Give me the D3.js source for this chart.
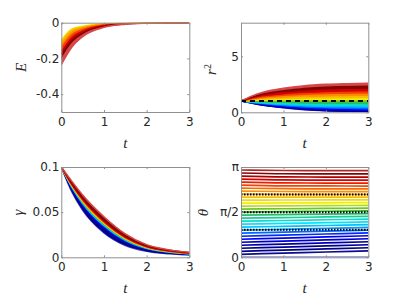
<!DOCTYPE html>
<html><head><meta charset="utf-8">
<script src="https://cdn.jsdelivr.net/npm/d3@7"></script>
<style>body{margin:0;background:#fff}svg{display:block}</style>
</head><body>
<svg id="chart" width="407" height="305"></svg>
<script>
// ---------- data ----------
const timeGrid = [0, 0.25, 0.5, 1, 1.5, 2, 2.5, 3];
const thetaTimes = [0, 1, 2, 3];
const xTicks = [0, 1, 2, 3];

// colour index (initial angle / pi) of the band curves
const bandColorIndex = [0, 0.067, 0.133, 0.2, 0.267, 0.333, 0.4, 0.467, 0.533, 0.6, 0.667, 0.733, 0.8, 0.867, 0.933, 1];

// E(t): only the visible curves (colour index 0.6 .. 1)
const energyColorIndex = [0.6, 0.667, 0.733, 0.8, 0.867, 0.933, 1];
const energyValues = [
  [-0.098, -0.035, -0.020, -0.005, -0.001, 0, 0, 0],
  [-0.115, -0.048, -0.026, -0.0075, -0.0018, -0.0005, -0.0001, 0],
  [-0.135, -0.062, -0.034, -0.010, -0.0027, -0.0008, -0.0003, 0],
  [-0.155, -0.078, -0.043, -0.013, -0.004, -0.0012, -0.0004, 0],
  [-0.175, -0.093, -0.053, -0.017, -0.005, -0.0018, -0.0005, 0],
  [-0.200, -0.111, -0.064, -0.021, -0.007, -0.0022, -0.0007, 0],
  [-0.235, -0.136, -0.078, -0.026, -0.0087, -0.003, -0.001, 0]
];
const energyTicks = [0, -0.2, -0.4];

// r^2(t)
const rSquaredValues = [
  [1, 0.82, 0.65, 0.40, 0.22, 0.12, 0.06, 0.02],
  [1, 0.82, 0.65, 0.42, 0.25, 0.15, 0.09, 0.06],
  [1, 0.84, 0.68, 0.47, 0.31, 0.23, 0.17, 0.14],
  [1, 0.86, 0.73, 0.54, 0.41, 0.33, 0.29, 0.26],
  [1, 0.88, 0.78, 0.63, 0.52, 0.46, 0.42, 0.40],
  [1, 0.91, 0.83, 0.72, 0.64, 0.59, 0.57, 0.55],
  [1, 0.94, 0.89, 0.82, 0.77, 0.74, 0.73, 0.72],
  [1, 0.98, 0.96, 0.93, 0.92, 0.91, 0.90, 0.90],
  [1, 1.02, 1.04, 1.05, 1.07, 1.07, 1.08, 1.08],
  [1, 1.06, 1.11, 1.17, 1.21, 1.23, 1.24, 1.25],
  [1, 1.12, 1.21, 1.31, 1.38, 1.42, 1.44, 1.45],
  [1, 1.17, 1.30, 1.45, 1.55, 1.61, 1.63, 1.65],
  [1, 1.23, 1.40, 1.60, 1.72, 1.80, 1.83, 1.85],
  [1, 1.30, 1.52, 1.78, 1.93, 2.03, 2.07, 2.10],
  [1, 1.38, 1.67, 2.00, 2.20, 2.31, 2.36, 2.40],
  [1, 1.45, 1.78, 2.15, 2.38, 2.50, 2.56, 2.60]
];
const rSquaredReference = 1;
const rSquaredTicks = [0, 5];

// gamma(t)
const gammaValues = [
  [0.1, 0.0720, 0.0520, 0.0270, 0.0130, 0.0065, 0.0038, 0.0025],
  [0.1, 0.0744, 0.0554, 0.0306, 0.0156, 0.0080, 0.0047, 0.0031],
  [0.1, 0.0758, 0.0574, 0.0328, 0.0172, 0.0089, 0.0053, 0.0035],
  [0.1, 0.0766, 0.0585, 0.0338, 0.0179, 0.0094, 0.0056, 0.0036],
  [0.1, 0.0770, 0.0591, 0.0346, 0.0185, 0.0097, 0.0058, 0.0038],
  [0.1, 0.0775, 0.0598, 0.0353, 0.0190, 0.0100, 0.0060, 0.0039],
  [0.1, 0.0780, 0.0605, 0.0360, 0.0195, 0.0103, 0.0062, 0.0040],
  [0.1, 0.0784, 0.0610, 0.0365, 0.0199, 0.0105, 0.0063, 0.0041],
  [0.1, 0.0787, 0.0615, 0.0371, 0.0203, 0.0107, 0.0064, 0.0042],
  [0.1, 0.0791, 0.0620, 0.0376, 0.0207, 0.0109, 0.0066, 0.0043],
  [0.1, 0.0794, 0.0625, 0.0382, 0.0211, 0.0112, 0.0067, 0.0044],
  [0.1, 0.0798, 0.0631, 0.0387, 0.0215, 0.0114, 0.0069, 0.0045],
  [0.1, 0.0802, 0.0636, 0.0392, 0.0218, 0.0116, 0.0070, 0.0045],
  [0.1, 0.0806, 0.0642, 0.0400, 0.0224, 0.0119, 0.0072, 0.0047],
  [0.1, 0.0833, 0.0680, 0.0439, 0.0252, 0.0135, 0.0082, 0.0053],
  [0.1, 0.0840, 0.0690, 0.0450, 0.0260, 0.0140, 0.0085, 0.0055]
];
const gammaTicks = [0, 0.05, 0.1];

// theta(t) in degrees, one row per initial angle
const thetaDegrees = [
  [0, 0, 0, 0],
  [6, 8.3, 10.6, 13],
  [12, 14.4, 16.8, 19],
  [18, 20.4, 22.8, 25],
  [24, 26.4, 28.8, 31],
  [30, 32.4, 34.8, 37],
  [36, 38.3, 40.6, 43],
  [42, 44.2, 46.4, 48.5],
  [48, 50, 52, 54],
  [54, 55.8, 57.6, 59.5],
  [60, 61.7, 63.4, 65],
  [66, 67.5, 69, 70.5],
  [72, 73.4, 74.8, 76],
  [78, 79.2, 80.4, 81.5],
  [84, 85, 86, 87],
  [90, 91, 91.8, 92.5],
  [96, 96.8, 97.4, 98],
  [102, 102.6, 103, 103.5],
  [108, 108.3, 108.6, 109],
  [114, 114.2, 114.3, 114.5],
  [120, 120, 120, 120],
  [126, 125.6, 125.5, 125.5],
  [132, 131.2, 131, 131],
  [138, 136.8, 136.5, 136.5],
  [144, 142.5, 142.2, 142],
  [150, 148.3, 148, 148],
  [156, 154.2, 153.8, 153.8],
  [162, 160.3, 160, 160],
  [168, 166.5, 166.2, 166.2],
  [174, 173, 172.8, 172.8],
  [180, 180, 180, 180]
];
const magicAngles = [0.9553, Math.PI / 2, Math.PI - 0.9553];
const thetaTicks = [0, Math.PI / 2, Math.PI];
const thetaTickLabels = ["0", "\u03c0/2", "\u03c0"];

// ---------- styling / layout ----------
const colorMap = d3.scaleLinear()
  .domain([0, 0.04, 0.12, 0.21, 0.29, 0.37, 0.5, 0.6, 0.74, 0.86, 0.93, 1])
  .range(["#4848c8", "#000080", "#00009a", "#0000ff", "#0090ff", "#00e8ff", "#30b030", "#f0f000", "#ff8800", "#e00000", "#800000", "#d84848"])
  .clamp(true);

const axisColor = "#8f8f8f";
const textColor = "#262626";
const tickFont = "12px 'DejaVu Sans', 'Liberation Sans', Arial, sans-serif";
const labelFontFamily = "'Liberation Serif', 'DejaVu Serif', serif";

const svg = d3.select("#chart");
svg.append("rect").attr("width", 407).attr("height", 305).attr("fill", "#fff");
const defs = svg.append("defs");

function makePanel(id, box, yDomain) {
  const x = d3.scaleLinear().domain([0, 3]).range([box.x0, box.x1]);
  const y = d3.scaleLinear().domain(yDomain).range([box.y1, box.y0]);
  defs.append("clipPath").attr("id", "clip-" + id).append("rect")
    .attr("x", box.x0).attr("y", box.y0)
    .attr("width", box.x1 - box.x0).attr("height", box.y1 - box.y0);
  const g = svg.append("g");
  const plot = g.append("g").attr("clip-path", `url(#clip-${id})`);
  return { x, y, g, plot, box };
}

function styleAxis(sel) {
  sel.select(".domain").attr("stroke", axisColor).attr("stroke-width", 1);
  sel.selectAll(".tick line").attr("stroke", axisColor).attr("stroke-width", 1);
  sel.selectAll(".tick text").attr("fill", textColor).style("font", tickFont);
}

function drawAxes(p, yTicks, yFormat) {
  const b = p.box;
  const gb = p.g.append("g").attr("transform", `translate(0,${b.y1})`)
    .call(d3.axisBottom(p.x).tickValues(xTicks).tickFormat(d3.format("d")).tickSizeInner(-2).tickSizeOuter(0).tickPadding(5));
  styleAxis(gb);
  const gt = p.g.append("g").attr("transform", `translate(0,${b.y0})`)
    .call(d3.axisTop(p.x).tickValues(xTicks).tickFormat("").tickSizeInner(-2).tickSizeOuter(0));
  styleAxis(gt);
  const gl = p.g.append("g").attr("transform", `translate(${b.x0},0)`)
    .call(d3.axisLeft(p.y).tickValues(yTicks).tickFormat(yFormat).tickSizeInner(-2).tickSizeOuter(0).tickPadding(2));
  styleAxis(gl);
  const gr = p.g.append("g").attr("transform", `translate(${b.x1},0)`)
    .call(d3.axisRight(p.y).tickValues(yTicks).tickFormat("").tickSizeInner(-2).tickSizeOuter(0));
  styleAxis(gr);
}

function xLabel(p, cx, baseline) {
  p.g.append("text").attr("x", cx).attr("y", baseline).attr("text-anchor", "middle")
    .attr("fill", textColor).style("font-family", labelFontFamily).style("font-style", "italic")
    .style("font-size", "15px").text("t");
}

function yLabel(p, cx, cy, build) {
  const t = p.g.append("text").attr("transform", `translate(${cx},${cy}) rotate(-90)`)
    .attr("text-anchor", "middle").attr("dy", "0.35em")
    .attr("fill", textColor).style("font-family", labelFontFamily).style("font-size", "15px");
  build(t);
}

function drawBand(p, series, colorIdx, times) {
  const line = d3.line().x((d, i) => p.x(times[i])).y(d => p.y(d)).curve(d3.curveMonotoneX);
  series.forEach((s, k) => {
    if (k > 0) {
      const prev = series[k - 1];
      const area = d3.area().x((d, i) => p.x(times[i]))
        .y0((d, i) => p.y(prev[i])).y1(d => p.y(d)).curve(d3.curveMonotoneX);
      p.plot.append("path").attr("d", area(s)).attr("fill", colorMap(colorIdx[k]));
    }
    p.plot.append("path").attr("d", line(s)).attr("fill", "none")
      .attr("stroke", colorMap(colorIdx[k])).attr("stroke-width", 1.4);
  });
}

// ---------- panel 1 : E ----------
const pE = makePanel("e", { x0: 61.3, x1: 189.3, y0: 22.7, y1: 112 }, [-0.5, 0]);
drawBand(pE, energyValues, energyColorIndex, timeGrid);
drawAxes(pE, energyTicks, d => d === 0 ? "0" : d3.format(".1f")(d).replace("\u2212", "-"));
xLabel(pE, 125.3, 147.5);
yLabel(pE, 20.5, 67.4, t => t.append("tspan").style("font-style", "italic").text("E"));

// ---------- panel 2 : r^2 ----------
const pR = makePanel("r", { x0: 241, x1: 368.3, y0: 22.7, y1: 112.3 }, [0, 8]);
drawBand(pR, rSquaredValues, bandColorIndex, timeGrid);
pR.plot.append("path")
  .attr("d", d3.line().x(d => pR.x(d)).y(() => pR.y(rSquaredReference))([0, 3]))
  .attr("stroke", "#000").attr("stroke-width", 2).attr("stroke-dasharray", "5,4").attr("fill", "none");
drawAxes(pR, rSquaredTicks, d3.format("d"));
xLabel(pR, 304.6, 147.5);
yLabel(pR, 210.5, 69.5, t => {
  t.append("tspan").style("font-style", "italic").text("r");
  t.append("tspan").attr("dy", "-0.45em").style("font-size", "10px").text("2");
});

// ---------- panel 3 : gamma ----------
const pG = makePanel("g", { x0: 61.3, x1: 189.3, y0: 167, y1: 257.3 }, [0, 0.1]);
drawBand(pG, gammaValues, bandColorIndex, timeGrid);
drawAxes(pG, gammaTicks, d => d === 0 ? "0" : String(d));
xLabel(pG, 125.3, 293);
yLabel(pG, 17.5, 212.5, t => t.append("tspan").style("font-style", "italic").text("\u03b3"));

// ---------- panel 4 : theta ----------
const pT = makePanel("t", { x0: 241, x1: 368.3, y0: 167, y1: 257.3 }, [0, Math.PI]);
const thetaLine = d3.line().x((d, i) => pT.x(thetaTimes[i])).y(d => pT.y(d * Math.PI / 180)).curve(d3.curveMonotoneX);
thetaDegrees.forEach((row, k) => {
  pT.plot.append("path").attr("d", thetaLine(row)).attr("fill", "none")
    .attr("stroke", colorMap(row[0] / 180)).attr("stroke-width", 1.7);
});
magicAngles.forEach(a => {
  pT.plot.append("path")
    .attr("d", d3.line().x(d => pT.x(d)).y(() => pT.y(a))([0, 3]))
    .attr("stroke", "#000").attr("stroke-width", 2).attr("stroke-dasharray", "1.5,1.5").attr("fill", "none");
});
drawAxes(pT, thetaTicks, (d, i) => thetaTickLabels[i]);
xLabel(pT, 304.6, 293);
yLabel(pT, 202.5, 212.5, t => t.append("tspan").style("font-style", "italic").text("\u03b8"));
</script>
</body></html>
